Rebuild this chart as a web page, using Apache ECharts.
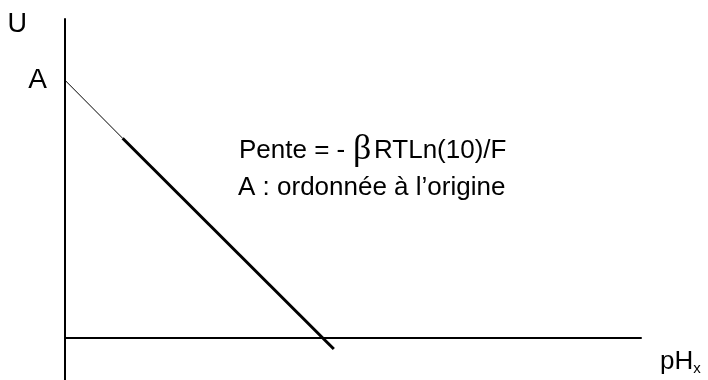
<!DOCTYPE html>
<html><head><meta charset="utf-8">
<script src="https://cdn.jsdelivr.net/npm/echarts@6/dist/echarts.min.js"></script>
<style>html,body{margin:0;padding:0;background:#fff}#c{width:708px;height:380px}</style>
</head><body><div id="c"></div>
<script>
const xRange = [0, 9];
const yRange = [-0.65, 4.95];
const interceptA = 4;
const thinSegment = [[0, 4], [0.9, 3.1]];
const thickSegment = [[0.9, 3.1], [4.2, -0.17]];
const noteParts = ['Pente = - ', 'β', 'RTLn(10)/F'];
const noteLine2 = 'A : ordonnée à l’origine';

const FONT = 'Liberation Sans, Arial, sans-serif';
const chart = echarts.init(document.getElementById('c'));
chart.setOption({
  animation: false,
  grid: { left: 65, right: 67, top: 19, bottom: 0, containLabel: false },
  xAxis: {
    type: 'value', min: xRange[0], max: xRange[1],
    name: '{p|pH}{s|x}', nameLocation: 'end', nameGap: 19,
    nameTextStyle: { verticalAlign: 'top', align: 'left', padding: [9, 0, 0, 0],
      rich: { p: { fontFamily: FONT, fontSize: 26, color: '#000' },
              s: { fontFamily: FONT, fontSize: 15, color: '#000', verticalAlign: 'bottom', padding: [14, 0, 0, 0] } } },
    axisLine: { onZero: true, lineStyle: { color: '#000', width: 2 } },
    axisTick: { show: false }, axisLabel: { show: false }, splitLine: { show: false }
  },
  yAxis: {
    type: 'value', min: yRange[0], max: yRange[1],
    name: 'U', nameLocation: 'end', nameGap: -6,
    nameTextStyle: { fontFamily: FONT, fontSize: 27, color: '#000', align: 'right', verticalAlign: 'middle', padding: [0, 38, 0, 0] },
    axisLine: { lineStyle: { color: '#000', width: 2 } },
    axisTick: { show: false }, splitLine: { show: false },
    axisLabel: { show: true, customValues: [interceptA], formatter: () => 'A', margin: 18,
      fontFamily: FONT, fontSize: 28, color: '#000', padding: [0, 0, 14, 0] }
  },
  series: [
    { type: 'line', data: thinSegment, symbol: 'none', lineStyle: { color: '#000', width: 1 } },
    { type: 'line', data: thickSegment, symbol: 'none', lineStyle: { color: '#000', width: 3 } }
  ],
  graphic: [
    { type: 'text', left: 239, top: 138, style: { text: noteParts[0], fontFamily: FONT, fontSize: 26, fill: '#000' } },
    { type: 'text', left: 353, top: 132, style: { text: noteParts[1], fontFamily: 'Liberation Serif, serif', fontSize: 36, fill: '#000' } },
    { type: 'text', left: 374, top: 138, style: { text: noteParts[2], fontFamily: FONT, fontSize: 26, fill: '#000' } },
    { type: 'text', left: 238, top: 175, style: { text: noteLine2, fontFamily: FONT, fontSize: 26, fill: '#000' } }
  ]
});
</script></body></html>
